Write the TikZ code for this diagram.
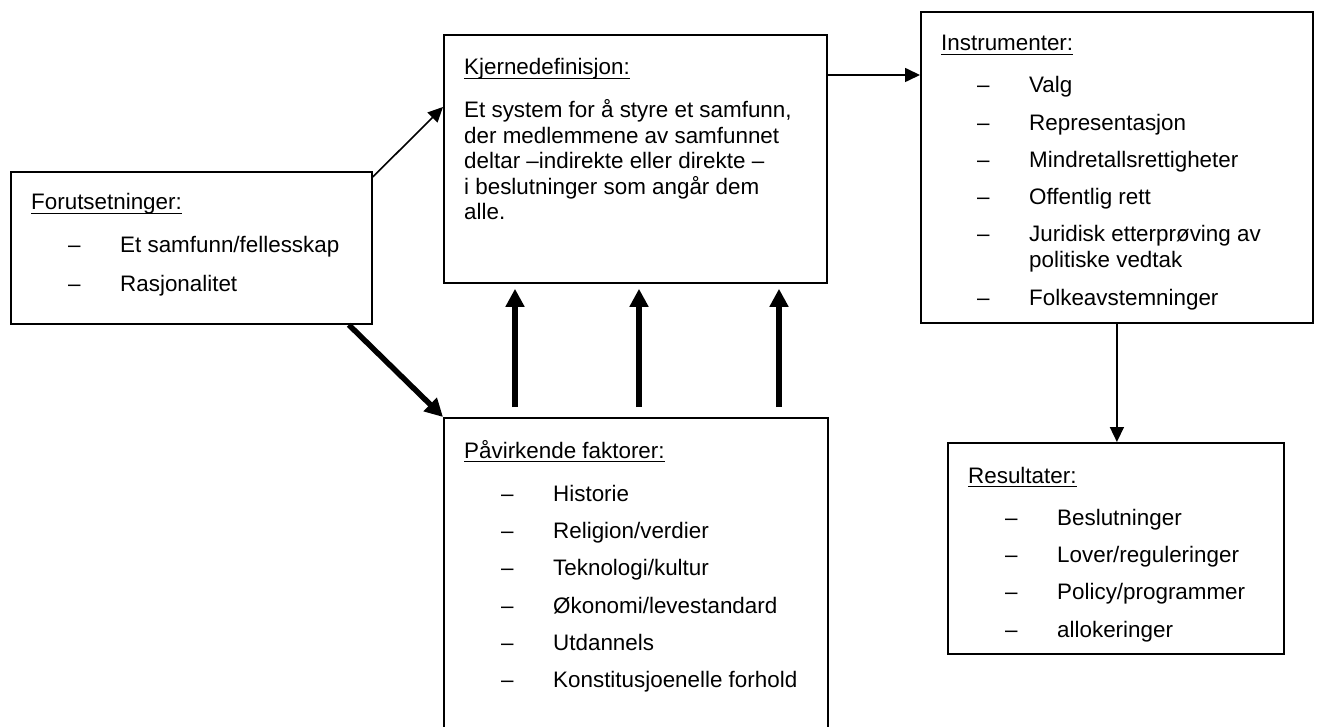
\documentclass[tikz,border=0pt]{standalone}
\usepackage{fontspec}
\setmainfont{Liberation Sans}
\usetikzlibrary{arrows.meta}
\tikzset{
  box/.style={draw, line width=1.8pt, inner sep=0pt, anchor=north west},
  txt/.style={anchor=base west, inner sep=0pt, font=\fontsize{22.4}{25}\selectfont},
  thinarrow/.style={line width=1.6pt, -{Triangle[length=15pt,width=14pt]}},
  thickarrow/.style={line width=5.5pt, -{Triangle[length=18pt,width=18pt]}},
  uline/.style={line width=1.5pt},
}
\begin{document}
\begin{tikzpicture}[x=1pt,y=-1pt]
\useasboundingbox (0,0) rectangle (1332,727);

% boxes
\node[box, minimum width=361pt, minimum height=152pt] (fut) at (10,171) {};
\node[box, minimum width=383pt, minimum height=248pt] (kern) at (443,34) {};
\node[box, minimum width=392pt, minimum height=311pt] (instr) at (920,11) {};
\node[box, minimum width=384pt, minimum height=313pt] (pav) at (443,417) {};
\node[box, minimum width=336pt, minimum height=211pt] (res) at (947,442) {};

% Forutsetninger
\node[txt] (fh) at (31,210) {Forutsetninger:};
\draw[uline] ([yshift=-3.5pt]fh.base west) -- ([yshift=-3.5pt]fh.base east);
\node[txt] (fd1) at (68,253) {–};
\node[txt] (f1) at (120,253) {Et samfunn/fellesskap};
\node[txt] (fd2) at (68,291) {–};
\node[txt] (f2) at (120,291) {Rasjonalitet};

% Kjernedefinisjon
\node[txt] (kh) at (464,75) {Kjernedefinisjon:};
\draw[uline] ([yshift=-3.5pt]kh.base west) -- ([yshift=-3.5pt]kh.base east);
\node[txt] (k1) at (464,118) {Et system for å styre et samfunn,};
\node[txt] (k2) at (464,143.5) {der medlemmene av samfunnet};
\node[txt] (k3) at (464,169) {deltar –indirekte eller direkte –};
\node[txt] (k4) at (464,194.5) {i beslutninger som angår dem};
\node[txt] (k5) at (464,220) {alle.};

% Instrumenter
\node[txt] (ih) at (941,51) {Instrumenter:};
\draw[uline] ([yshift=-3.5pt]ih.base west) -- ([yshift=-3.5pt]ih.base east);
\node[txt] (id1) at (977,93) {–};
\node[txt] (i1) at (1029,93) {Valg};
\node[txt] (id2) at (977,130.2) {–};
\node[txt] (i2) at (1029,130.2) {Representasjon};
\node[txt] (id3) at (977,167.4) {–};
\node[txt] (i3) at (1029,167.4) {Mindretallsrettigheter};
\node[txt] (id4) at (977,204.6) {–};
\node[txt] (i4) at (1029,204.6) {Offentlig rett};
\node[txt] (id5) at (977,241.8) {–};
\node[txt] (i5) at (1029,241.8) {Juridisk etterprøving av};
\node[txt] (i5b) at (1029,267.5) {politiske vedtak};
\node[txt] (id6) at (977,305.5) {–};
\node[txt] (i6) at (1029,305.5) {Folkeavstemninger};

% Påvirkende faktorer
\node[txt] (ph) at (464,458) {Påvirkende faktorer:};
\draw[uline] ([yshift=-3.5pt]ph.base west) -- ([yshift=-3.5pt]ph.base east);
\node[txt] (pd1) at (501,501.5) {–};
\node[txt] (p1) at (553,501.5) {Historie};
\node[txt] (pd2) at (501,538.7) {–};
\node[txt] (p2) at (553,538.7) {Religion/verdier};
\node[txt] (pd3) at (501,575.9) {–};
\node[txt] (p3) at (553,575.9) {Teknologi/kultur};
\node[txt] (pd4) at (501,613.1) {–};
\node[txt] (p4) at (553,613.1) {Økonomi/levestandard};
\node[txt] (pd5) at (501,650.3) {–};
\node[txt] (p5) at (553,650.3) {Utdannels};
\node[txt] (pd6) at (501,687.5) {–};
\node[txt] (p6) at (553,687.5) {Konstitusjoenelle forhold};

% Resultater
\node[txt] (rh) at (968,483) {Resultater:};
\draw[uline] ([yshift=-3.5pt]rh.base west) -- ([yshift=-3.5pt]rh.base east);
\node[txt] (rd1) at (1005,525.5) {–};
\node[txt] (r1) at (1057,525.5) {Beslutninger};
\node[txt] (rd2) at (1005,562.7) {–};
\node[txt] (r2) at (1057,562.7) {Lover/reguleringer};
\node[txt] (rd3) at (1005,599.9) {–};
\node[txt] (r3) at (1057,599.9) {Policy/programmer};
\node[txt] (rd4) at (1005,637) {–};
\node[txt] (r4) at (1057,637) {allokeringer};

% connectors
\draw[thinarrow] ([yshift=-6pt]fut.north east) -- ([yshift=-73pt]kern.north west);
\draw[thinarrow] ([yshift=-41pt]kern.north east) coordinate (h1) -- (h1 -| instr.west);
\draw[thinarrow] (instr.south) -- (instr.south |- res.north);
\draw[thickarrow] ([xshift=-24pt]fut.south east) -- (pav.north west);
\coordinate (v1) at (515,350);
\coordinate (v2) at (639,350);
\coordinate (v3) at (779,350);
\foreach \v in {v1,v2,v3}
  \draw[thickarrow, shorten <=10pt, shorten >=5pt] (\v |- pav.north) -- (\v |- kern.south);
\end{tikzpicture}
\end{document}
